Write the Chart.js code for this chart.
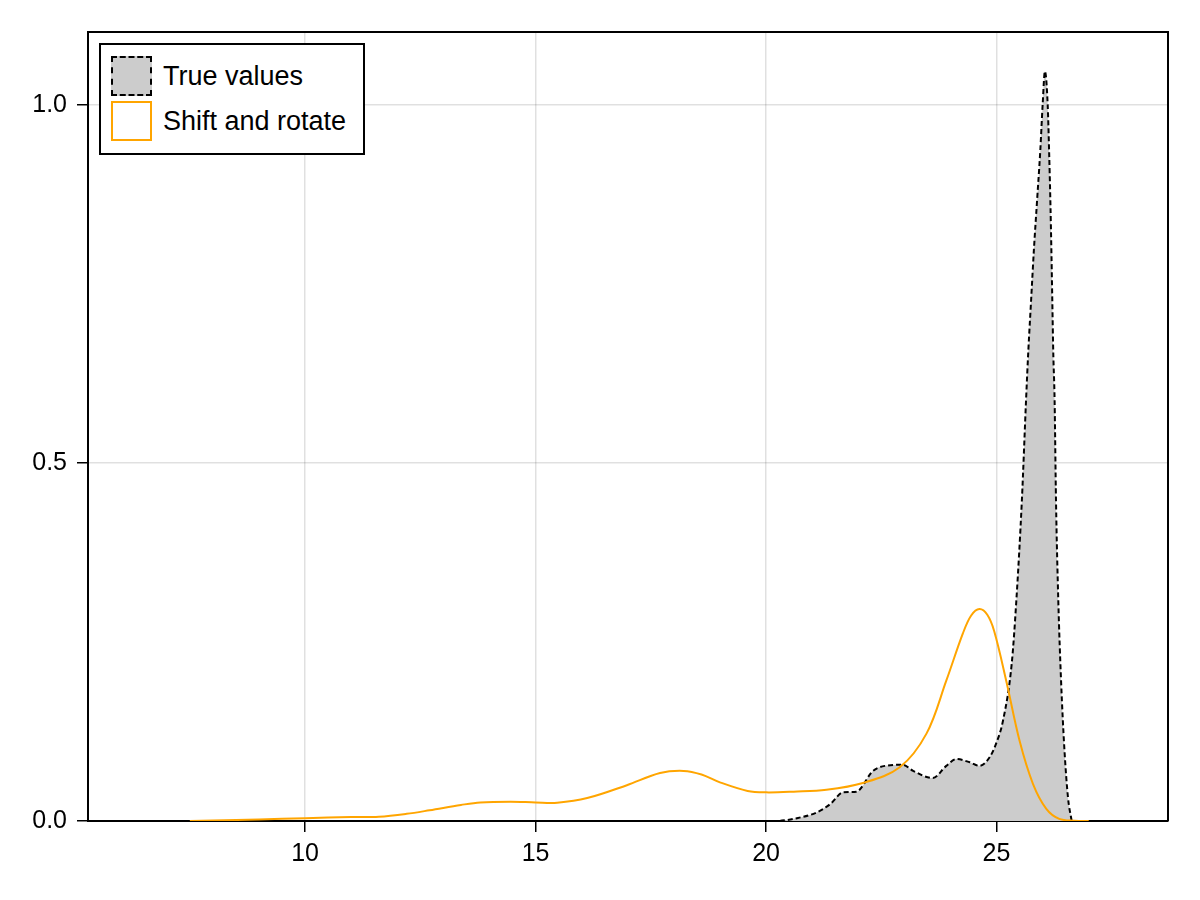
<!DOCTYPE html>
<html>
<head>
<meta charset="utf-8">
<script src="https://cdn.jsdelivr.net/npm/chart.js@4.4.1/dist/chart.umd.min.js"></script>
<style>
  body { margin: 0; background: #fff; }
  #wrap { position: relative; width: 1200px; height: 900px; }
  #legend {
    position: absolute; left: 99px; top: 43px; width: 262px; height: 108px;
    border: 2px solid #000; background: #fff;
    font-family: "Liberation Sans", Arial, sans-serif; font-size: 27px; color: #000;
  }
  .row { position: absolute; left: 0; height: 41px; width: 100%; }
  .sw { position: absolute; left: 10px; top: 0; width: 37px; height: 36px; }
  .lbl { position: absolute; left: 62px; top: 4px; white-space: nowrap; line-height: 32px; }
</style>
</head>
<body>
<div id="wrap">
  <canvas id="c" width="1200" height="900"></canvas>
  <div id="legend">
    <div class="row" style="top:11px">
      <span class="sw" style="background:#cccccc;border:2px dashed #000"></span>
      <span class="lbl">True values</span>
    </div>
    <div class="row" style="top:56px">
      <span class="sw" style="background:#fff;border:2px solid #ffa500"></span>
      <span class="lbl">Shift and rotate</span>
    </div>
  </div>
</div>
<script>
  /* ---------- DATA ---------- */
  const trueX = [20.3, 20.6, 21.1, 21.4, 21.67, 21.96, 22.32, 22.58, 22.97, 23.19,
    23.62, 23.91, 24.13, 24.42, 24.63, 24.85, 24.99, 25.14, 25.33, 25.43, 25.55,
    25.64, 25.69, 25.75, 25.81, 25.88, 25.95, 26.0, 26.05, 26.11, 26.14, 26.17,
    26.19, 26.21, 26.23, 26.26, 26.29, 26.34, 26.4, 26.47, 26.55, 26.63];
  const trueY = [0, 0.003, 0.012, 0.024, 0.04, 0.041, 0.07, 0.077, 0.0785, 0.07,
    0.06, 0.077, 0.0865, 0.082, 0.077, 0.089, 0.108, 0.14, 0.22, 0.308, 0.448,
    0.587, 0.657, 0.727, 0.797, 0.867, 0.937, 1.0, 1.047, 1.0, 0.937, 0.86,
    0.797, 0.727, 0.657, 0.587, 0.448, 0.308, 0.196, 0.103, 0.033, 0];

  const shiftX = [7.5, 8, 9, 10, 11, 11.6, 12.2, 12.7, 13.38, 13.8, 14.46, 15,
    15.47, 16.12, 16.98, 17.7, 18.21, 18.6, 19.0, 19.6, 20, 20.6, 21.31, 22.1,
    22.9, 23.48, 23.91, 24.27, 24.45, 24.63, 24.8, 24.95, 25.21, 25.5, 25.79,
    26.08, 26.36, 26.7, 27.0];
  const shiftY = [0, 0.0008, 0.002, 0.004, 0.0055, 0.006, 0.01, 0.015, 0.0224,
    0.026, 0.027, 0.026, 0.0256, 0.032, 0.05, 0.067, 0.07, 0.065, 0.054, 0.042,
    0.04, 0.041, 0.0435, 0.053, 0.075, 0.122, 0.196, 0.262, 0.287, 0.296, 0.288,
    0.265, 0.196, 0.112, 0.052, 0.017, 0.003, 0.0005, 0];

  const xTicks = [10, 15, 20, 25];
  const yTicks = [0, 0.5, 1.0];

  /* ---------- STYLE ---------- */
  const gridCol = "rgba(0,0,0,0.12)";
  Chart.defaults.font.family = "'Liberation Sans', Arial, sans-serif";
  Chart.defaults.font.size = 25;
  Chart.defaults.color = "#000";

  // top / right spines
  const frame = {
    id: "frame",
    afterDraw(chart) {
      const { ctx, chartArea: a } = chart;
      ctx.save();
      ctx.strokeStyle = "#000";
      ctx.lineWidth = 2;
      ctx.beginPath();
      ctx.moveTo(a.left, a.top);
      ctx.lineTo(a.right, a.top);
      ctx.lineTo(a.right, a.bottom);
      ctx.stroke();
      ctx.restore();
    },
  };

  const pts = (xs, ys) => xs.map((x, i) => ({ x: x, y: ys[i] }));

  new Chart(document.getElementById("c"), {
    type: "line",
    data: {
      datasets: [
        {
          label: "True values",
          data: pts(trueX, trueY),
          borderColor: "#000",
          borderWidth: 2,
          borderDash: [5, 3],
          backgroundColor: "#cccccc",
          fill: "origin",
          cubicInterpolationMode: "monotone",
          order: 2,
        },
        {
          label: "Shift and rotate",
          data: pts(shiftX, shiftY),
          borderColor: "#ffa500",
          borderWidth: 2,
          fill: false,
          tension: 0.35,
          order: 1,
        },
      ],
    },
    options: {
      responsive: false,
      animation: false,
      devicePixelRatio: 1,
      layout: { padding: { top: 32, right: 32, left: 0, bottom: 0 } },
      elements: { point: { radius: 0 } },
      plugins: { legend: { display: false }, tooltip: { enabled: false } },
      scales: {
        x: {
          type: "linear",
          min: 5.29,
          max: 28.72,
          afterBuildTicks: (s) => { s.ticks = xTicks.map((v) => ({ value: v })); },
          afterFit: (s) => { s.height = 79; },
          ticks: { padding: 7, callback: (v) => String(v) },
          grid: { color: gridCol, lineWidth: 1.5, tickColor: "#000", tickLength: 11, tickWidth: 1.5 },
          border: { display: true, color: "#000", width: 2 },
        },
        y: {
          type: "linear",
          min: 0,
          max: 1.102,
          afterBuildTicks: (s) => { s.ticks = yTicks.map((v) => ({ value: v })); },
          afterFit: (s) => { s.width = 88; },
          ticks: { padding: 10, callback: (v) => v.toFixed(1) },
          grid: { color: gridCol, lineWidth: 1.5, tickColor: "#000", tickLength: 11, tickWidth: 1.5 },
          border: { display: true, color: "#000", width: 2 },
        },
      },
    },
    plugins: [frame],
  });
</script>
</body>
</html>
